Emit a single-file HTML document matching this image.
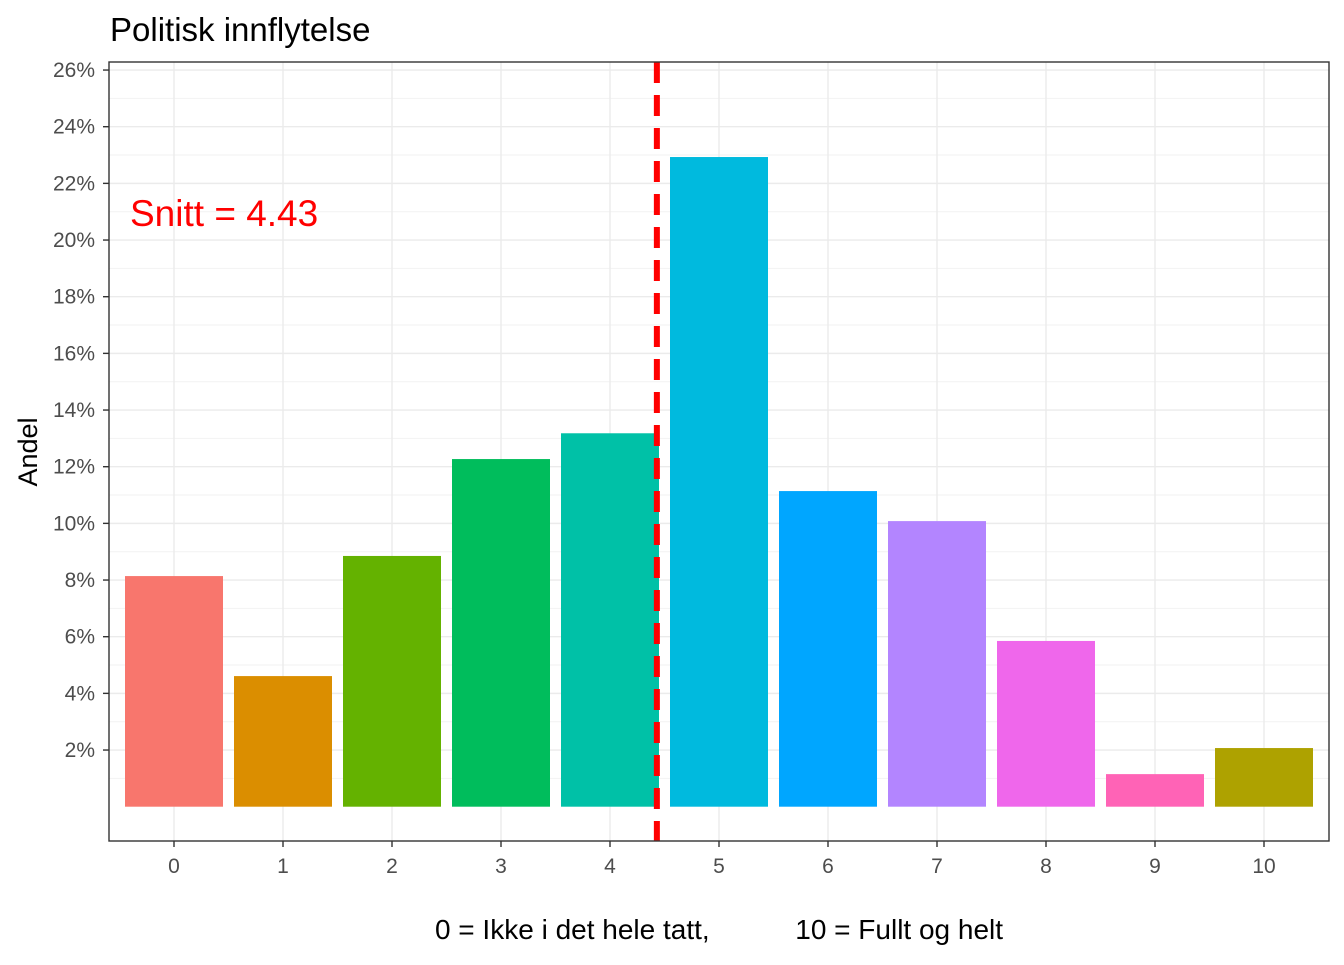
<!DOCTYPE html>
<html><head><meta charset="utf-8"><style>
body{margin:0;background:#fff;}
svg text{font-family:"Liberation Sans",Arial,sans-serif;}
</style></head><body>
<svg id="chart" width="1344" height="960" xmlns="http://www.w3.org/2000/svg">
<rect width="1344" height="960" fill="#fff"/>
<g id="grid"></g>
<g id="bars"></g>
<g id="axes"></g>
<text x="110" y="41" font-size="33" fill="#000">Politisk innflytelse</text>
<text transform="translate(37,452) rotate(-90)" text-anchor="middle" font-size="27" fill="#000">Andel</text>
<text x="719" y="939" text-anchor="middle" font-size="28" fill="#000" xml:space="preserve">0 = Ikke i det hele tatt,           10 = Fullt og helt</text>
</svg>
<script>
const categories=["0","1","2","3","4","5","6","7","8","9","10"];
const values=[8.14,4.61,8.85,12.27,13.18,22.93,11.14,10.08,5.85,1.15,2.07];
const colors=["#F8766D","#DB8E00","#64B200","#00BD5C","#00C1A7","#00BADE","#00A6FF","#B385FF","#EF67EB","#FF63B6","#AEA200"];
const yTicks=[2,4,6,8,10,12,14,16,18,20,22,24,26];
const meanValue=4.43;

const NS="http://www.w3.org/2000/svg";
const L=109,R=1329,T=62,B=841;
const x=i=>174+i*109;
const y=v=>806.7-v*28.333;
function el(tag,attrs,parent){const e=document.createElementNS(NS,tag);for(const k in attrs)e.setAttribute(k,attrs[k]);parent.appendChild(e);return e;}
const grid=document.getElementById('grid'),bars=document.getElementById('bars'),axes=document.getElementById('axes');
el('rect',{x:L,y:T,width:R-L,height:B-T,fill:'#fff'},grid);
for(let v=1;v<=27;v+=2){const yy=y(v);if(yy>T&&yy<B){const g=el('line',{x1:L,x2:R,y1:yy,y2:yy,stroke:'#f2f2f2','stroke-width':1},grid);}}
yTicks.forEach(v=>{const yy=y(v);
const g=el('line',{x1:L,x2:R,y1:yy,y2:yy,stroke:'#ebebeb','stroke-width':1.4},grid);

el('line',{x1:103,x2:L,y1:yy,y2:yy,stroke:'#333','stroke-width':1.4},axes);
const t=el('text',{x:95,y:yy+7,'text-anchor':'end','font-size':21,fill:'#4d4d4d'},axes);t.textContent=v+'%';
});
categories.forEach((c,i)=>{const xx=x(i);
el('line',{x1:xx,x2:xx,y1:T,y2:B,stroke:'#ebebeb','stroke-width':1.4},grid);
const r=el('rect',{x:xx-49,y:y(values[i]),width:98,height:y(0)-y(values[i]),fill:colors[i]},bars);

el('line',{x1:xx,x2:xx,y1:B,y2:B+6,stroke:'#333','stroke-width':1.4},axes);
const t=el('text',{x:xx,y:873,'text-anchor':'middle','font-size':21,fill:'#4d4d4d'},axes);t.textContent=c;
});
const mx=x(meanValue);
const ml=el('line',{x1:mx,x2:mx,y1:T,y2:B,stroke:'#ff0000','stroke-width':6,'stroke-dasharray':'21 12'},axes);

const st=el('text',{x:130,y:226,'font-size':37,fill:'#ff0000'},axes);st.textContent='Snitt = '+meanValue.toFixed(2);

const fr=el('rect',{x:L,y:T,width:R-L,height:B-T,fill:'none',stroke:'#333','stroke-width':1.4},axes);

</script>
</body></html>
